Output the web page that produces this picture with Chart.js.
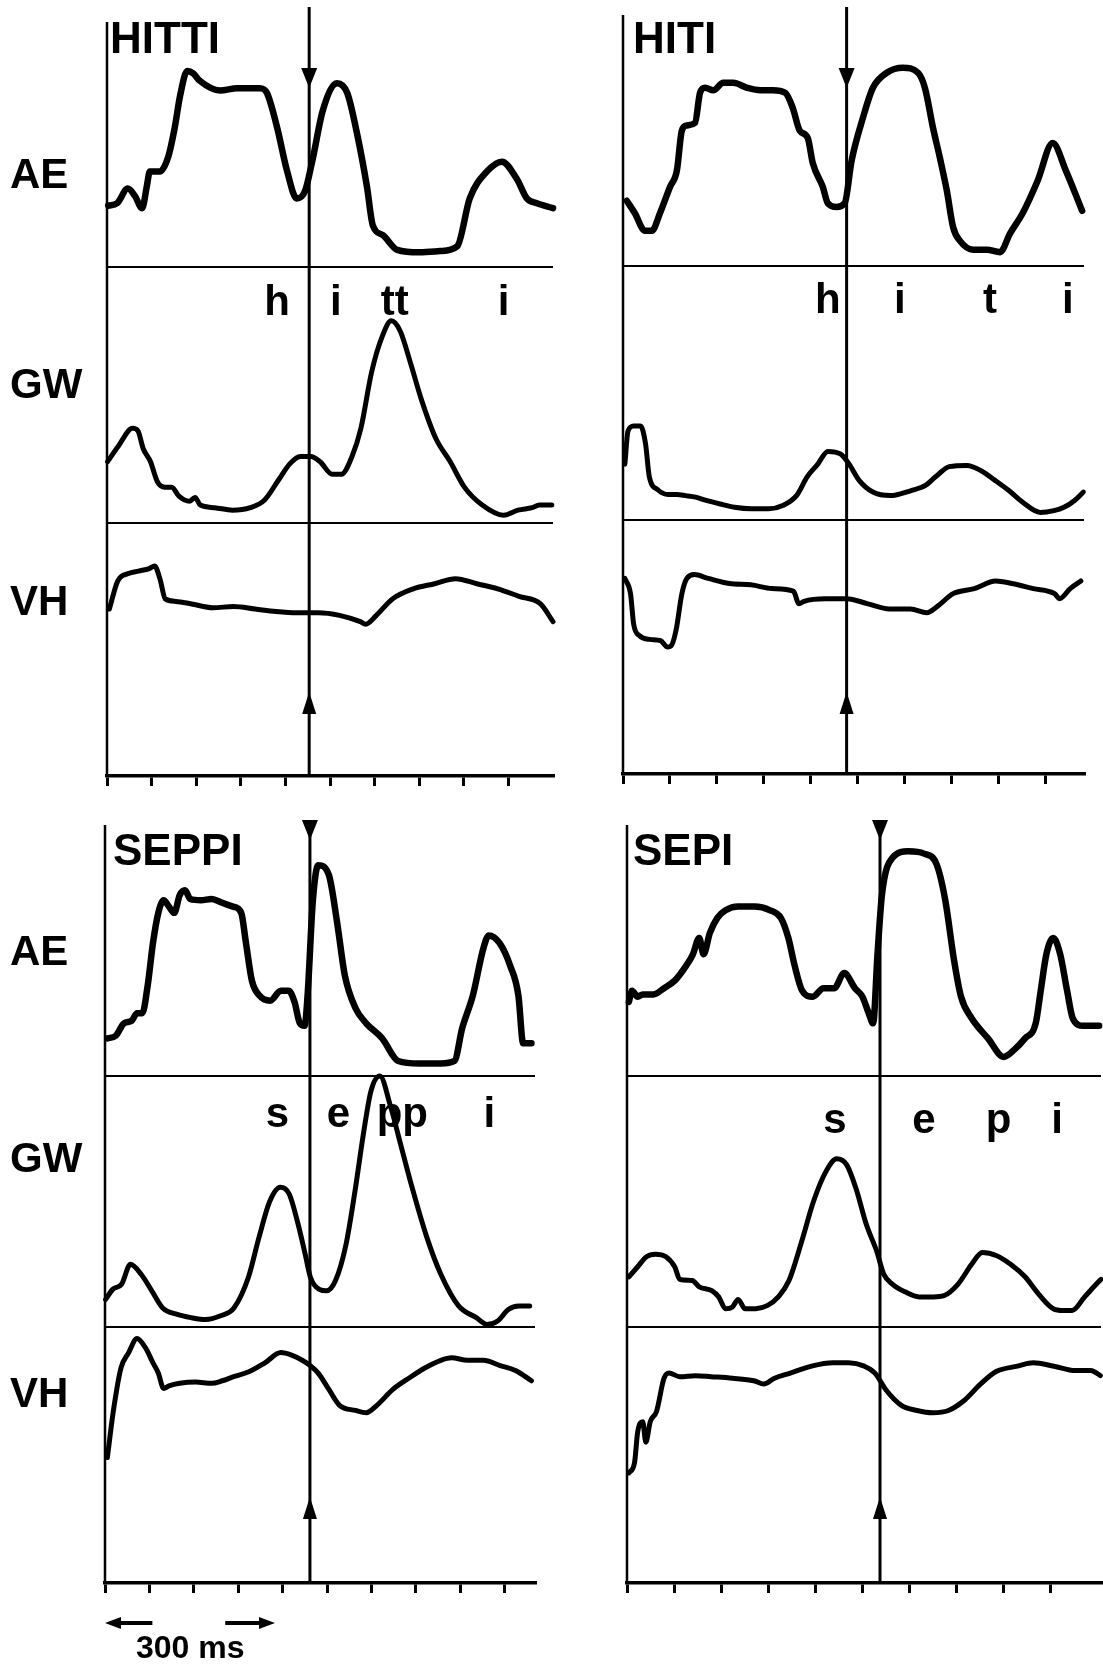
<!DOCTYPE html>
<html>
<head>
<meta charset="utf-8">
<script src="https://cdn.jsdelivr.net/npm/chart.js@4.4.0/dist/chart.umd.min.js"></script>
<style>
  html, body { margin: 0; padding: 0; background: #fff; }
  #wrap { position: relative; width: 1103px; height: 1664px; overflow: hidden; }
  #wrap canvas { position: absolute; left: 0; top: 0; }
</style>
</head>
<body>
<div id="wrap">
  <canvas id="c0" width="1103" height="1664"></canvas>
  <canvas id="c1" width="1103" height="1664"></canvas>
  <canvas id="c2" width="1103" height="1664"></canvas>
  <canvas id="c3" width="1103" height="1664"></canvas>
</div>
<script>
// --- data: time in ms, amplitude in % of each channel band ---
const channels = ['AE', 'GW', 'VH'];
const words = ['HITTI', 'HITI', 'SEPPI', 'SEPI'];
const eventMs = [340, 357, 346, 403];
const tickMs = [0, 75, 150, 225, 300, 375, 450, 525, 600, 675];

const phonesHitti = ['h', 'i', 'tt', 'i'];
const phoneMsHitti = [286, 385, 484, 667];
const phonesHiti = ['h', 'i', 't', 'i'];
const phoneMsHiti = [327, 442, 586, 710];
const phonesSeppi = ['s', 'e', 'pp', 'i'];
const phoneMsSeppi = [291, 394, 502, 649];
const phonesSepi = ['s', 'e', 'p', 'i'];
const phoneMsSepi = [331, 473, 592, 685];

const hittiAE = [[2,25],[17,26],[35,32],[47,29],[59,24],[67,33],[72,39],[89,39],[103,45],[114,57],[123,70],[135,80],[145,79],[156,76],[190,72],[219,73],[257,73],[269,71],[286,57],[303,39],[319,28],[333,31],[345,43],[363,64],[387,75],[404,71],[420,55],[437,33],[447,17],[464,13],[488,7],[526,6],[560,6.5],[589,8.5],[610,28],[639,39],[664,43],[689,36],[706,28],[723,26],[750,24]];
const hittiGW = [[1,24],[19,30],[43,37],[52,36],[61,29],[73,24],[85,16],[97,14],[109,14],[121,10.5],[139,8.5],[148,10],[157,7],[181,6],[211,5],[241,6],[265,9],[289,17],[307,23],[325,26],[343,26],[358,24],[379,19],[394,19],[412,26],[427,37],[445,59],[463,73],[478,79],[493,75],[511,62],[529,48],[553,33],[577,24],[601,14],[631,7],[667,3],[691,5],[715,6],[727,7],[748,7]];
const hittiVH = [[4,66],[18,77],[36,80],[53,81],[71,82],[80,83],[89,78],[98,70],[116,69],[142,68],[178,66.5],[213,67],[249,66],[284,65],[320,64.5],[355,64.5],[391,63.5],[426,61],[435,60],[453,63.5],[480,70],[515,74],[551,76],[586,78],[622,76],[657,74],[693,71],[729,68],[750,61]];

const hitiAE = [[6,26],[19,21],[35,14],[46,14],[59,21],[75,31.5],[86,38],[94,54],[102,56],[115,57],[123,69],[131,71],[144,70],[160,73],[176,73],[198,71],[219,70],[239,70],[259,69],[271,63],[282,54],[295,51],[303,41],[319,31.5],[327,25],[341,23.5],[354,25],[365,42],[383,59],[399,71],[421,77],[447,79],[471,77],[482,71],[495,55],[506,43],[517,30],[527,15.5],[538,10],[559,6.5],[581,6.5],[602,5.5],[618,13],[638,21],[662,34],[686,49],[707,38],[733,22]];
const hitiGW = [[3,22],[8,35],[17,37],[28,37],[36,30],[42,17],[55,12],[72,10],[86,10],[100,9.6],[116,9],[133,7.7],[155,6.3],[178,5],[205,4.4],[233,4.4],[255,5.7],[277,9.6],[294,17],[311,22],[327,27],[347,26],[361,22],[377,15.6],[399,11],[427,9.6],[460,11.6],[483,13.6],[499,17],[521,21],[549,21.5],[571,19.5],[594,15.6],[616,11.6],[638,7],[666,3],[688,3.7],[704,5],[721,7.7],[735,11]];
const hitiVH = [[3,77],[12,71],[17,59],[26,54.5],[43,53],[60,52.5],[71,50],[77,50.5],[85,57],[94,71],[102,77],[114,78.5],[136,77],[170,75],[204,74.5],[238,73],[272,72],[281,67],[289,68],[323,69],[357,69],[391,67],[425,65],[459,65],[485,63.5],[502,66],[527,71],[561,73],[595,76],[621,75],[655,73],[689,71],[697,69],[714,73],[731,76]];

const seppiAE = [[4,15],[18,16],[32,21],[45,22],[54,25],[63,25],[72,36],[81,53],[90,65],[99,70],[108,67.5],[117,65],[126,72],[135,74],[144,70.5],[162,70],[180,70.5],[198,69],[216,67.5],[230,65],[238,53],[248,38],[261,32],[279,30],[297,34],[310,34],[320,29.5],[329,21],[337,20],[342,32],[351,70],[360,84],[378,80],[392,61],[405,40],[423,27],[441,21],[468,15],[495,6],[531,5],[567,5],[590,6],[603,19],[621,32],[639,51],[648,56],[666,53],[684,44],[698,32],[706,13],[720,13]];
const seppiGW = [[1,11],[13,15],[28,17],[43,25],[61,21],[79,14.4],[97,7.7],[122,5],[146,3.7],[170,3],[194,4.4],[218,7.7],[242,19.7],[260,35.7],[278,50],[296,55.7],[311,53],[326,41],[338,29],[347,19.7],[362,15],[374,14.4],[389,18.4],[407,33],[422,54],[437,78],[449,94],[464,100],[482,88],[500,72],[518,56],[543,36],[567,21],[597,8.4],[627,3.7],[645,1],[663,2.4],[681,7],[699,8.4],[717,8.4]];
const seppiVH = [[4,49],[14,67],[27,84],[40,90],[54,95.5],[68,92],[81,86],[90,82],[99,76],[108,77],[126,78],[153,78.5],[180,78],[198,79],[216,80.5],[243,82.5],[270,86],[297,90],[315,89],[333,87],[346,85],[360,82],[378,75.6],[396,69.4],[423,67.4],[441,66.5],[459,69.4],[486,75.6],[513,80],[540,84],[567,87],[585,88],[612,87],[639,87],[666,85],[693,83],[720,79]];

const sepiAE = [[3,29.5],[8,34],[17,31.6],[25,32.5],[42,32.5],[59,35],[76,38],[93,43.5],[105,48.5],[115,55],[122,48.5],[132,57],[144,63],[157,66],[177,67.5],[203,67.5],[228,66],[245,63],[257,55],[267,44],[279,34],[296,31.6],[313,35],[330,35],[346,41],[363,35],[375,31.6],[385,25],[392,21],[399,48.5],[406,72],[423,87],[448,89.5],[473,88.6],[493,84.4],[507,70],[521,46],[532,31.6],[549,23],[575,15],[600,7.6],[617,10.5],[634,15],[651,21],[659,34],[668,48.5],[679,55],[690,48.5],[701,34],[710,23],[727,20],[752,20]];
const sepiGW = [[3,20],[17,24],[31,28],[45,29],[62,28],[76,24],[84,19],[104,18.5],[115,16],[135,14.5],[146,12],[157,7.3],[168,8],[177,11],[188,7.3],[205,7.3],[224,8.6],[241,12],[258,18.5],[280,35.6],[297,50],[317,62],[334,67],[350,64.6],[365,55],[381,41],[398,30],[409,21],[423,17],[443,14],[465,12],[488,12],[505,12.5],[527,17],[549,25],[566,29.7],[589,28.4],[611,25],[634,20],[656,13],[679,7.3],[695,6.6],[709,6.6],[729,12],[751,18],[755,19]];
const sepiVH = [[3,43],[12,47],[17,59],[25,63],[30,55],[37,63],[47,67],[59,80],[67,82],[84,80.6],[109,81],[134,80.6],[168,80],[202,79],[218,77.7],[235,80],[260,82],[294,84.7],[328,86],[353,86],[378,84.7],[395,82],[412,75.6],[437,69.4],[462,67.4],[487,66.5],[512,67.4],[538,71.5],[563,77.7],[588,82.6],[622,84.7],[647,86],[680,84.7],[714,83],[739,83],[754,81]];

// --- layout of the four panels (page pixels) ---
const FONT = '"Liberation Sans", Arial, Helvetica, sans-serif';
const TICK_LEN = 10;

const panels = [
  { canvas: 'c0', traces: [hittiAE, hittiGW, hittiVH], phones: phonesHitti, phoneMs: phoneMsHitti,
    x0: 107, x1: 553, top: 22, sep: [267, 523], axis: 776, maxMs: 750,
    lineTop: 7, downTip: 88, upTip: 692, titleX: 110, titleY: 53, phoneY: 315, labelY: [188, 398, 615] },
  { canvas: 'c1', traces: [hitiAE, hitiGW, hitiVH], phones: phonesHiti, phoneMs: phoneMsHiti,
    x0: 623, x1: 1084, top: 15, sep: [266, 520], axis: 774, maxMs: 736,
    lineTop: 7, downTip: 88, upTip: 692, titleX: 633, titleY: 53, phoneY: 313, labelY: null },
  { canvas: 'c2', traces: [seppiAE, seppiGW, seppiVH], phones: phonesSeppi, phoneMs: phoneMsSeppi,
    x0: 105, x1: 535, top: 825, sep: [1076, 1327], axis: 1583, maxMs: 726,
    lineTop: 820, downTip: 840, upTip: 1497, titleX: 113, titleY: 865, phoneY: 1127, labelY: [965, 1172, 1407],
    scaleBar: { ms: [0, 80, 203, 287], y: 1623, text: '300 ms', textMs: 144, textY: 1658 } },
  { canvas: 'c3', traces: [sepiAE, sepiGW, sepiVH], phones: phonesSepi, phoneMs: phoneMsSepi,
    x0: 627, x1: 1101, top: 825, sep: [1076, 1327], axis: 1583, maxMs: 755,
    lineTop: 820, downTip: 840, upTip: 1497, titleX: 633, titleY: 865, phoneY: 1133, labelY: null }
];

function arrowHead(ctx, x, tipY, dir, len, half) {
  ctx.beginPath();
  ctx.moveTo(x, tipY);
  ctx.lineTo(x - half, tipY - dir * len);
  ctx.lineTo(x + half, tipY - dir * len);
  ctx.closePath();
  ctx.fill();
}

function sideArrow(ctx, x, y, dir) {
  ctx.beginPath();
  ctx.moveTo(x, y);
  ctx.lineTo(x - dir * 16, y - 6);
  ctx.lineTo(x - dir * 16, y + 6);
  ctx.closePath();
  ctx.fill();
}

// Frame, separators, event line and all text of one panel
const panelDecor = {
  id: 'panelDecor',
  beforeDatasetsDraw(chart, args, o) {
    const ctx = chart.ctx;
    const a = chart.chartArea;
    const xs = chart.scales.x;
    ctx.save();
    ctx.strokeStyle = '#000';
    ctx.fillStyle = '#000';

    ctx.lineWidth = 2.5;
    ctx.beginPath();
    ctx.moveTo(a.left, a.top);
    ctx.lineTo(a.left, a.bottom);
    ctx.stroke();

    ctx.lineWidth = 2;
    ['gw', 'vh'].forEach(id => {
      const y = chart.scales[id].top;
      ctx.beginPath();
      ctx.moveTo(a.left, y);
      ctx.lineTo(a.right, y);
      ctx.stroke();
    });

    // marked point in time
    const ex = xs.getPixelForValue(o.eventMs);
    ctx.lineWidth = 3;
    ctx.beginPath();
    ctx.moveTo(ex, o.lineTop);
    ctx.lineTo(ex, a.bottom);
    ctx.stroke();
    arrowHead(ctx, ex, o.downTip, 1, 20, 8);
    arrowHead(ctx, ex, o.upTip, -1, 22, 7);

    ctx.textAlign = 'left';
    ctx.textBaseline = 'alphabetic';
    ctx.font = 'bold 44px ' + FONT;
    ctx.fillText(o.word, o.titleX, o.titleY);

    ctx.font = 'bold 42px ' + FONT;
    if (o.labelY) {
      channels.forEach((c, i) => ctx.fillText(c, 10, o.labelY[i]));
    }
    ctx.textAlign = 'center';
    o.phones.forEach((p, i) => ctx.fillText(p, xs.getPixelForValue(o.phoneMs[i]), o.phoneY));
    ctx.restore();
  },
  afterDraw(chart, args, o) {
    if (!o.scaleBar) return;
    const sb = o.scaleBar;
    const ctx = chart.ctx;
    const xs = chart.scales.x;
    const px = sb.ms.map(v => xs.getPixelForValue(v));
    ctx.save();
    ctx.strokeStyle = '#000';
    ctx.fillStyle = '#000';
    ctx.lineWidth = 4;
    ctx.beginPath();
    ctx.moveTo(px[0] + 10, sb.y); ctx.lineTo(px[1], sb.y);
    ctx.moveTo(px[2], sb.y); ctx.lineTo(px[3] - 10, sb.y);
    ctx.stroke();
    sideArrow(ctx, px[0], sb.y, -1);
    sideArrow(ctx, px[3], sb.y, 1);
    ctx.font = 'bold 32px ' + FONT;
    ctx.textAlign = 'center';
    ctx.fillText(sb.text, xs.getPixelForValue(sb.textMs), sb.textY);
    ctx.restore();
  }
};

const channelIds = ['ae', 'gw', 'vh'];
const lineWidths = [6.5, 5, 5];

panels.forEach((p, k) => {
  const bands = [p.sep[0] - p.top, p.sep[1] - p.sep[0], p.axis - p.sep[1]];
  const yScale = i => ({
    type: 'linear', position: 'left', stack: 'channels', stackWeight: bands[i],
    min: 0, max: 100, display: false
  });
  // stacked left axes are laid out last-defined on top, so list them bottom-up
  new Chart(document.getElementById(p.canvas), {
    type: 'line',
    data: {
      datasets: p.traces.map((tr, i) => ({
        label: channels[i],
        data: tr.map(([t, v]) => ({ x: t, y: v })),
        yAxisID: channelIds[i],
        borderColor: '#000',
        borderWidth: lineWidths[i],
        borderJoinStyle: 'round',
        borderCapStyle: 'round',
        pointRadius: 0,
        cubicInterpolationMode: 'monotone',
        clip: false
      }))
    },
    options: {
      responsive: false,
      animation: false,
      devicePixelRatio: 1,
      events: [],
      layout: {
        padding: { left: p.x0, right: 1103 - p.x1, top: p.top, bottom: 1664 - p.axis - TICK_LEN }
      },
      scales: {
        x: {
          type: 'linear', min: 0, max: p.maxMs,
          afterBuildTicks: s => { s.ticks = tickMs.map(v => ({ value: v })); },
          ticks: { display: false },
          grid: { display: true, drawOnChartArea: false, drawTicks: true, tickLength: TICK_LEN, lineWidth: 3, color: '#000' },
          border: { display: true, color: '#000', width: 3.5 }
        },
        vh: yScale(2),
        gw: yScale(1),
        ae: yScale(0)
      },
      plugins: {
        legend: { display: false },
        tooltip: { enabled: false },
        panelDecor: {
          word: words[k], eventMs: eventMs[k], phones: p.phones, phoneMs: p.phoneMs,
          lineTop: p.lineTop, downTip: p.downTip, upTip: p.upTip,
          titleX: p.titleX, titleY: p.titleY, phoneY: p.phoneY, labelY: p.labelY,
          scaleBar: p.scaleBar || null
        }
      }
    },
    plugins: [panelDecor]
  });
});
</script>
</body>
</html>
